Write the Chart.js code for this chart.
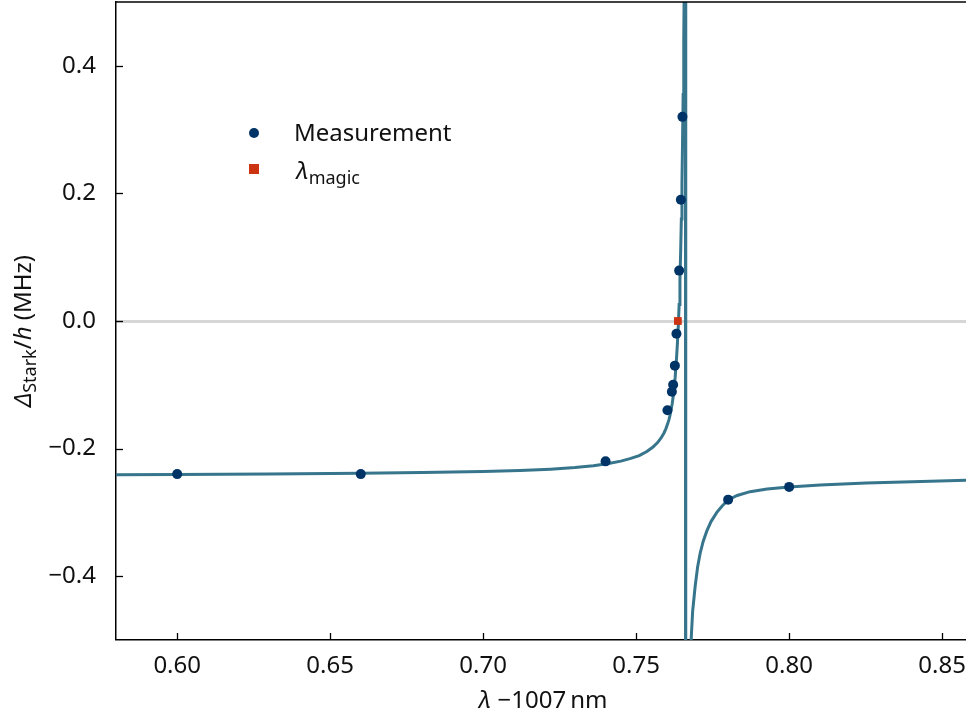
<!DOCTYPE html>
<html><head><meta charset="utf-8">
<script src="https://cdn.jsdelivr.net/npm/chart.js@4.4.0/dist/chart.umd.min.js"></script>
<style>html,body{margin:0;padding:0;background:#fff;overflow:hidden}#wrap{width:966px;height:718px;position:relative}</style>
</head><body><div id="wrap"><canvas id="c"></canvas></div>
<script>
const xTicks = [0.60, 0.65, 0.70, 0.75, 0.80, 0.85];
const yTicks = [-0.4, -0.2, 0.0, 0.2, 0.4];

const measX = [0.600, 0.660, 0.740, 0.76023, 0.76167, 0.76209, 0.76265, 0.76317, 0.76405, 0.76461, 0.76513, 0.78006, 0.800];
const measY = [-0.240, -0.240, -0.220, -0.140, -0.111, -0.100, -0.070, -0.020, 0.079, 0.190, 0.320, -0.280, -0.260];

const magicX = [0.76363];
const magicY = [0.0];

const fitX = [0.580, 0.600, 0.630, 0.660, 0.680, 0.700, 0.712, 0.722, 0.730, 0.736, 0.741, 0.745, 0.748, 0.751, 0.7535, 0.7555, 0.7570, 0.7582, 0.7591, 0.7597, 0.76023, 0.76070,
  0.76111, 0.76176, 0.76225, 0.76275, 0.76317, 0.76350, 0.76379, 0.76405, 0.76431, 0.76454, 0.76477, 0.76497, 0.76516, 0.76536, 0.76556, 0.76575, 0.76595, 0.76611, 0.76621,
  0.76621, 0.76650, 0.76699, 0.76748, 0.76797, 0.76846, 0.76928, 0.77010, 0.77092, 0.77190, 0.77310, 0.77451, 0.77637, 0.77810, 0.78006, 0.78301, 0.78725, 0.79281, 0.80000, 0.81013, 0.82516, 0.84020, 0.86013];
const fitY = [-0.2410, -0.2405, -0.2397, -0.2387, -0.2376, -0.2360, -0.2344, -0.2322, -0.2296, -0.2268, -0.2234, -0.2196, -0.2158, -0.2110, -0.2045, -0.1975, -0.1905, -0.1830, -0.1755, -0.1690, -0.1620, -0.1550,
  -0.1470, -0.1300, -0.1130, -0.0880, -0.0600, -0.0340, -0.0060, 0.0260, 0.0650, 0.1080, 0.1600, 0.2150, 0.2800, 0.3550, 0.4400, 0.5500, 0.7500, 1.2000, 4.0000,
  -4.0000, -1.6000, -0.9000, -0.6200, -0.5000, -0.4550, -0.4160, -0.3850, -0.3640, -0.3455, -0.3290, -0.3140, -0.3000, -0.2900, -0.2805, -0.2735, -0.2675, -0.2632, -0.2603, -0.2572, -0.2541, -0.2518, -0.2495];

const FONT = "'Noto Sans', 'DejaVu Sans', sans-serif";
const FS = 24;
const SUB = 0.75;
const C_MEAS = '#003366';
const C_FIT = '#36758c';
const C_MAGIC = '#cc3311';
const TXT = '#111';

const zip = (xs, ys) => xs.map((x, i) => ({x: x, y: ys[i]}));
const fmtY = v => { const s = Math.abs(v).toFixed(1); return (v < -1e-9 ? '\u2212' : '') + s; };

function drawPieces(ctx, pieces, x, y, align) {
  let total = 0;
  pieces.forEach(p => { ctx.font = p.font; p.w = ctx.measureText(p.t).width; total += p.w; });
  let cx = align === 'center' ? x - total / 2 : x;
  pieces.forEach(p => { ctx.font = p.font; ctx.fillText(p.t, cx, y + (p.dy || 0)); cx += p.w; });
}

const decor = {
  id: 'decor',
  afterDraw(chart) {
    const ctx = chart.ctx, a = chart.chartArea;
    const xs = chart.scales.x, ys = chart.scales.y;
    ctx.save();
    ctx.strokeStyle = '#000'; ctx.lineWidth = 1.5;
    ctx.beginPath(); ctx.moveTo(a.left - 0.75, a.top); ctx.lineTo(a.right, a.top); ctx.stroke();
    ctx.lineWidth = 1.3;
    xTicks.forEach(v => { const px = Math.round(xs.getPixelForValue(v)) + 0.5; ctx.beginPath(); ctx.moveTo(px, a.bottom); ctx.lineTo(px, a.bottom - 7); ctx.stroke(); });
    yTicks.forEach(v => { const py = Math.round(ys.getPixelForValue(v)) + 0.5; ctx.beginPath(); ctx.moveTo(a.left, py); ctx.lineTo(a.left + 7, py); ctx.stroke(); });
    // legend
    ctx.fillStyle = C_MEAS;
    ctx.beginPath(); ctx.arc(254, 133, 5, 0, Math.PI * 2); ctx.fill();
    ctx.fillStyle = C_MAGIC;
    ctx.fillRect(249, 164, 10, 10);
    ctx.fillStyle = TXT; ctx.textBaseline = 'alphabetic'; ctx.textAlign = 'left';
    ctx.font = FS + 'px ' + FONT;
    ctx.fillText('Measurement', 294, 141);
    drawPieces(ctx, [
      {t: '\u03bb', font: 'italic ' + FS + 'px ' + FONT},
      {t: 'magic', font: (FS * SUB).toFixed(1) + 'px ' + FONT, dy: 5}
    ], 296, 179, 'left');
    // x title
    drawPieces(ctx, [
      {t: '\u03bb', font: 'italic ' + FS + 'px ' + FONT},
      {t: ' \u22121007\u2009nm', font: FS + 'px ' + FONT}
    ], (a.left + a.right) / 2 + 2, 708, 'center');
    // y title
    ctx.translate(31, (a.top + a.bottom) / 2 + 10);
    ctx.rotate(-Math.PI / 2);
    drawPieces(ctx, [
      {t: '\u0394', font: 'italic ' + FS + 'px ' + FONT},
      {t: 'Stark', font: (FS * SUB).toFixed(1) + 'px ' + FONT, dy: 5},
      {t: '/', font: FS + 'px ' + FONT},
      {t: 'h', font: 'italic ' + FS + 'px ' + FONT},
      {t: ' (MHz)', font: FS + 'px ' + FONT}
    ], 0, 0, 'center');
    ctx.restore();
  }
};

Chart.defaults.font.family = FONT;
Chart.defaults.font.size = FS;
Chart.defaults.color = TXT;

new Chart(document.getElementById('c'), {
  type: 'scatter',
  data: {
    datasets: [
      {label: 'Measurement', data: zip(measX, measY), backgroundColor: C_MEAS, borderColor: C_MEAS, pointRadius: 5, pointHoverRadius: 5, borderWidth: 0, order: 0},
      {label: '\u03bb magic', data: zip(magicX, magicY), backgroundColor: C_MAGIC, borderColor: C_MAGIC, pointStyle: 'rect', pointRadius: 5.5, borderWidth: 0, order: 1},
      {label: 'fit', data: zip(fitX, fitY), showLine: true, borderColor: C_FIT, borderWidth: 3, pointRadius: 0, tension: 0, order: 2}
    ]
  },
  options: {
    responsive: true, maintainAspectRatio: false, animation: false, devicePixelRatio: 1,
    layout: {autoPadding: false, padding: {top: 2, right: 0, left: 0, bottom: 0}},
    plugins: {legend: {display: false}, tooltip: {enabled: false}},
    scales: {
      x: {
        type: 'linear', min: 0.58, max: 0.8578,
        afterBuildTicks: s => { s.ticks = xTicks.map(v => ({value: v})); },
        afterFit: s => { s.height = 78; s.paddingLeft = 0; s.paddingRight = 0; },
        ticks: {callback: v => v.toFixed(2), padding: 12, maxRotation: 0, autoSkip: false, color: TXT, font: {size: FS}},
        grid: {display: false, drawTicks: false},
        border: {display: true, color: '#000', width: 1.5}
      },
      y: {
        type: 'linear', min: -0.5, max: 0.5,
        afterBuildTicks: s => { s.ticks = yTicks.map(v => ({value: v})); },
        afterFit: s => { s.width = 116; s.paddingTop = 0; s.paddingBottom = 0; },
        ticks: {callback: v => fmtY(v), padding: 20, color: TXT, font: {size: FS}},
        grid: {
          drawTicks: false,
          color: c => (c.tick && Math.abs(c.tick.value) < 1e-9) ? '#d6d6d6' : 'rgba(0,0,0,0)',
          lineWidth: c => (c.tick && Math.abs(c.tick.value) < 1e-9) ? 3 : 0
        },
        border: {display: true, color: '#000', width: 1.5}
      }
    }
  },
  plugins: [decor]
});
</script>
</body></html>
